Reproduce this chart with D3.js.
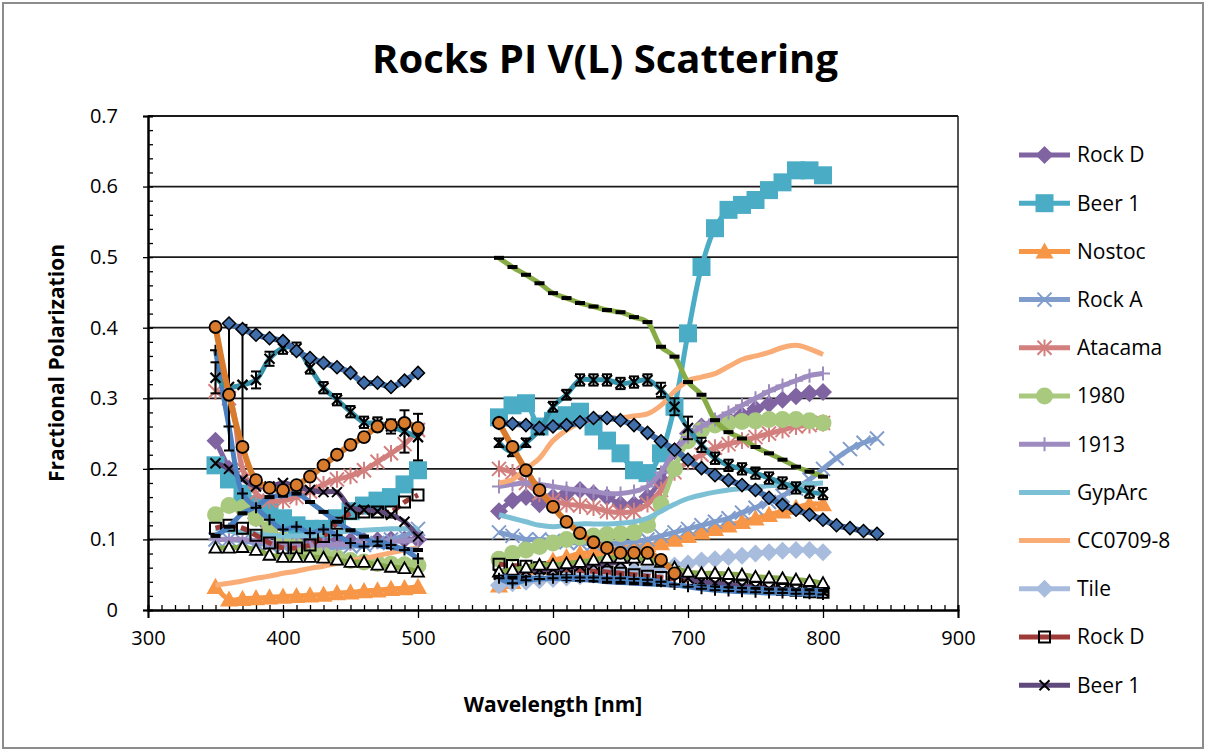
<!DOCTYPE html>
<html>
<head>
<meta charset="utf-8">
<script src="https://cdn.jsdelivr.net/npm/d3@7"></script>
<style>
  body { margin: 0; background: #fff; }
  text { font-family: "Open Sans", Lato, sans-serif; fill: #000; }
</style>
</head>
<body>
<div id="chart"></div>
<script>
// wavelengths (nm)
const wlLeft = [350, 360, 370, 380, 390, 400, 410, 420, 430, 440, 450, 460, 470, 480, 490, 500]
const wlRight = [560, 570, 580, 590, 600, 610, 620, 630, 640, 650, 660, 670, 680, 690, 700, 710, 720, 730, 740, 750, 760, 770, 780, 790, 800]
const wlRightLong = [560, 570, 580, 590, 600, 610, 620, 630, 640, 650, 660, 670, 680, 690, 700, 710, 720, 730, 740, 750, 760, 770, 780, 790, 800, 810, 820, 830, 840]
const wlOrangeRight = [560, 570, 580, 590, 600, 610, 620, 630, 640, 650, 660, 670, 680, 690]

// legend series
const rockDLeft = [0.24, 0.2, 0.16, 0.13, 0.11, 0.1, 0.098, 0.097, 0.097, 0.097, 0.098, 0.098, 0.099, 0.1, 0.1, 0.1]
const rockDRight = [0.14, 0.155, 0.16, 0.15, 0.16, 0.165, 0.17, 0.165, 0.16, 0.15, 0.15, 0.16, 0.185, 0.225, 0.25, 0.26, 0.265, 0.27, 0.276, 0.285, 0.292, 0.298, 0.303, 0.307, 0.309]
const beer1Left = [0.205, 0.185, 0.165, 0.15, 0.14, 0.13, 0.12, 0.115, 0.115, 0.13, 0.14, 0.148, 0.155, 0.16, 0.178, 0.198]
const beer1Right = [0.273, 0.29, 0.293, 0.26, 0.268, 0.276, 0.281, 0.26, 0.24, 0.222, 0.198, 0.194, 0.222, 0.288, 0.392, 0.486, 0.541, 0.567, 0.574, 0.581, 0.595, 0.606, 0.623, 0.623, 0.616]
const nostocLeft = [0.033, 0.015, 0.016, 0.017, 0.018, 0.019, 0.02, 0.021, 0.022, 0.024, 0.025, 0.027, 0.028, 0.03, 0.031, 0.033]
const nostocRight = [0.035, 0.04, 0.05, 0.06, 0.07, 0.075, 0.08, 0.082, 0.085, 0.088, 0.09, 0.092, 0.095, 0.1, 0.105, 0.11, 0.115, 0.12, 0.125, 0.13, 0.135, 0.14, 0.145, 0.15, 0.15]
const rockALeft = [0.1, 0.1, 0.098, 0.095, 0.092, 0.09, 0.088, 0.088, 0.088, 0.088, 0.09, 0.092, 0.095, 0.1, 0.105, 0.115]
const rockARight = [0.11, 0.105, 0.1, 0.1, 0.098, 0.096, 0.095, 0.094, 0.094, 0.095, 0.097, 0.1, 0.105, 0.11, 0.115, 0.12, 0.125, 0.13, 0.138, 0.145, 0.153, 0.162, 0.172, 0.185, 0.2, 0.215, 0.228, 0.237, 0.243]
const atacamaLeft = [0.31, 0.3, 0.2, 0.165, 0.155, 0.155, 0.16, 0.168, 0.178, 0.185, 0.19, 0.198, 0.21, 0.222, 0.235, 0.255]
const atacamaRight = [0.2, 0.195, 0.18, 0.165, 0.155, 0.15, 0.148, 0.145, 0.14, 0.138, 0.14, 0.15, 0.17, 0.195, 0.21, 0.22, 0.23, 0.235, 0.24, 0.245, 0.25, 0.255, 0.26, 0.262, 0.265]
const s1980Left = [0.135, 0.148, 0.145, 0.13, 0.115, 0.1, 0.09, 0.083, 0.078, 0.074, 0.07, 0.068, 0.066, 0.065, 0.064, 0.063]
const s1980Right = [0.072, 0.08, 0.085, 0.09, 0.095, 0.1, 0.103, 0.105, 0.107, 0.108, 0.11, 0.12, 0.15, 0.2, 0.24, 0.255, 0.262, 0.265, 0.267, 0.268, 0.27, 0.27, 0.27, 0.268, 0.265]
const s1913Left = [0.1, 0.1, 0.1, 0.098, 0.095, 0.093, 0.092, 0.092, 0.092, 0.093, 0.094, 0.095, 0.096, 0.097, 0.098, 0.1]
const s1913Right = [0.175, 0.178, 0.18, 0.178, 0.175, 0.172, 0.17, 0.168, 0.165, 0.165, 0.168, 0.175, 0.195, 0.225, 0.245, 0.26, 0.27, 0.28, 0.29, 0.3, 0.31, 0.318, 0.325, 0.332, 0.335]
const gypArcLeft = [0.115, 0.112, 0.11, 0.108, 0.106, 0.105, 0.105, 0.106, 0.108, 0.11, 0.112, 0.113, 0.114, 0.115, 0.115, 0.116]
const gypArcRight = [0.135, 0.13, 0.125, 0.12, 0.118, 0.12, 0.122, 0.122, 0.122, 0.123, 0.125, 0.13, 0.14, 0.15, 0.158, 0.163, 0.167, 0.17, 0.172, 0.174, 0.176, 0.177, 0.178, 0.179, 0.18]
const ccLeft = [0.035, 0.038, 0.041, 0.045, 0.048, 0.052, 0.055, 0.059, 0.062, 0.066, 0.07, 0.073, 0.077, 0.081, 0.085, 0.088]
const ccRight = [0.18, 0.185, 0.2, 0.215, 0.24, 0.255, 0.265, 0.27, 0.272, 0.272, 0.275, 0.278, 0.29, 0.31, 0.325, 0.33, 0.335, 0.345, 0.355, 0.36, 0.365, 0.372, 0.375, 0.37, 0.362]
const tileRight = [0.035, 0.038, 0.04, 0.042, 0.044, 0.046, 0.048, 0.05, 0.052, 0.054, 0.056, 0.058, 0.06, 0.063, 0.066, 0.07, 0.072, 0.075, 0.077, 0.08, 0.082, 0.084, 0.085, 0.085, 0.082]
const rockD2Left = [0.116, 0.12, 0.116, 0.106, 0.095, 0.088, 0.088, 0.092, 0.104, 0.123, 0.137, 0.139, 0.139, 0.139, 0.153, 0.163]
const rockD2Right = [0.065, 0.063, 0.062, 0.06, 0.058, 0.057, 0.056, 0.055, 0.054, 0.052, 0.05, 0.048, 0.046, 0.044, 0.042, 0.04, 0.038, 0.036, 0.034, 0.032, 0.031, 0.029, 0.028, 0.026, 0.025]
const beer1bLeft = [0.208, 0.2, 0.185, 0.175, 0.175, 0.18, 0.175, 0.17, 0.167, 0.167, 0.145, 0.142, 0.14, 0.135, 0.125, 0.104]
const beer1bRight = [0.05, 0.052, 0.055, 0.057, 0.058, 0.06, 0.062, 0.064, 0.066, 0.068, 0.07, 0.072, 0.07, 0.055, 0.045, 0.04, 0.038, 0.036, 0.034, 0.032, 0.03, 0.029, 0.028, 0.027, 0.026]

// unlabelled series
const blueDiaLeft = [null, 0.406, 0.398, 0.39, 0.385, 0.381, 0.367, 0.357, 0.35, 0.344, 0.336, 0.322, 0.322, 0.316, 0.325, 0.336]
const blueDiaRight = [0.265, 0.264, 0.262, 0.258, 0.26, 0.262, 0.266, 0.272, 0.272, 0.269, 0.262, 0.251, 0.239, 0.227, 0.213, 0.201, 0.191, 0.184, 0.177, 0.17, 0.159, 0.149, 0.142, 0.135, 0.128, 0.12, 0.116, 0.112, 0.108]
const tealErrLeft = [0.329, 0.316, 0.319, 0.326, 0.356, 0.371, 0.371, 0.343, 0.315, 0.298, 0.281, 0.266, 0.265, 0.26, 0.253, 0.245]
const tealErrLeftErr = [0.022, 0.09, 0.085, 0.012, 0.01, 0.008, 0.008, 0.008, 0.008, 0.008, 0.008, 0.008, 0.008, 0.01, 0.03, 0.033]
const tealErrRight = [0.237, 0.224, 0.237, 0.255, 0.288, 0.305, 0.326, 0.326, 0.326, 0.321, 0.323, 0.326, 0.312, 0.288, 0.258, 0.234, 0.215, 0.205, 0.2, 0.194, 0.187, 0.18, 0.173, 0.167, 0.165]
const tealErrRightErr = [0.006, 0.006, 0.006, 0.006, 0.007, 0.007, 0.008, 0.008, 0.008, 0.008, 0.008, 0.008, 0.01, 0.012, 0.016, 0.01, 0.008, 0.008, 0.008, 0.008, 0.008, 0.008, 0.008, 0.008, 0.008]
const orangeCircLeft = [0.401, 0.305, 0.231, 0.184, 0.173, 0.17, 0.177, 0.189, 0.205, 0.22, 0.234, 0.245, 0.26, 0.262, 0.265, 0.258]
const orangeCircRight = [0.265, 0.231, 0.198, 0.17, 0.146, 0.125, 0.109, 0.096, 0.088, 0.081, 0.081, 0.081, 0.071, 0.052]
const bluePlusLeft = [0.368, 0.26, 0.165, 0.145, 0.128, 0.114, 0.118, 0.109, 0.114, 0.106, 0.095, 0.09, 0.097, 0.092, 0.085, 0.073]
const bluePlusRight = [0.045, 0.038, 0.042, 0.044, 0.045, 0.046, 0.046, 0.046, 0.045, 0.045, 0.044, 0.043, 0.04, 0.036, 0.033, 0.03, 0.028, 0.027, 0.026, 0.025, 0.024, 0.024, 0.023, 0.023, 0.022]
const blueDashLeft = [0.105, 0.118, 0.137, 0.146, 0.16, 0.162, 0.165, 0.153, 0.139, 0.125, 0.113, 0.104, 0.092, 0.089, 0.086, 0.085]
const blueDashRight = [0.047, 0.046, 0.046, 0.045, 0.045, 0.044, 0.043, 0.042, 0.04, 0.039, 0.038, 0.037, 0.036, 0.035, 0.034, 0.033, 0.032, 0.031, 0.03, 0.03, 0.029, 0.028, 0.028, 0.028, 0.027]
const greenDashRight = [0.499, 0.486, 0.475, 0.463, 0.449, 0.442, 0.435, 0.43, 0.425, 0.422, 0.415, 0.408, 0.373, 0.359, 0.323, 0.305, 0.269, 0.252, 0.243, 0.231, 0.222, 0.213, 0.203, 0.196, 0.189]
const greenTriLeft = [0.088, 0.088, 0.089, 0.085, 0.078, 0.075, 0.075, 0.075, 0.074, 0.071, 0.068, 0.068, 0.064, 0.061, 0.059, 0.054]
const greenTriRight = [0.054, 0.057, 0.06, 0.064, 0.064, 0.066, 0.068, 0.071, 0.074, 0.074, 0.074, 0.071, 0.068, 0.06, 0.054, 0.052, 0.052, 0.051, 0.05, 0.047, 0.046, 0.045, 0.043, 0.041, 0.038]

const legendNames = ['Rock D', 'Beer 1', 'Nostoc', 'Rock A', 'Atacama', '1980', '1913', 'GypArc', 'CC0709-8', 'Tile', 'Rock D', 'Beer 1']
const xTicks = [300, 400, 500, 600, 700, 800, 900]
const yTicks = [0, 0.1, 0.2, 0.3, 0.4, 0.5, 0.6, 0.7]

const pair = (xs, ys) => xs.map((d, i) => [d, ys[i]]).filter(p => p[1] != null)

// drawing order = Excel series order
const series = [
  { name: legendNames[0], segs: [pair(wlLeft, rockDLeft), pair(wlRight, rockDRight)], color: '#8064A2', lw: 5, marker: 'diamond', ms: 9, fill: '#8064A2' },
  { name: legendNames[1], segs: [pair(wlLeft, beer1Left), pair(wlRight, beer1Right)], color: '#4BACC6', lw: 5, marker: 'square', ms: 9, fill: '#4BACC6' },
  { name: legendNames[2], segs: [pair(wlLeft, nostocLeft), pair(wlRight, nostocRight)], color: '#F79646', lw: 5, marker: 'triangle', ms: 9, fill: '#F79646' },
  { name: legendNames[3], segs: [pair(wlLeft, rockALeft), pair(wlRightLong, rockARight)], color: '#7F9CCC', lw: 5, marker: 'x', ms: 7, stroke: '#7F9CCC', sw: 2 },
  { name: legendNames[4], segs: [pair(wlLeft, atacamaLeft), pair(wlRight, atacamaRight)], color: '#D27F7D', lw: 5, marker: 'star', ms: 7, stroke: '#D27F7D', sw: 2 },
  { name: legendNames[5], segs: [pair(wlLeft, s1980Left), pair(wlRight, s1980Right)], color: '#A9C97E', lw: 5, marker: 'circle', ms: 8.5, fill: '#A9C97E' },
  { name: legendNames[6], segs: [pair(wlLeft, s1913Left), pair(wlRight, s1913Right)], color: '#9E8BBF', lw: 5, marker: 'plus', ms: 7, stroke: '#9E8BBF', sw: 2 },
  { name: legendNames[7], segs: [pair(wlLeft, gypArcLeft), pair(wlRight, gypArcRight)], color: '#7CC0D6', lw: 5, marker: null },
  { name: legendNames[8], segs: [pair(wlLeft, ccLeft), pair(wlRight, ccRight)], color: '#F9AC76', lw: 5, marker: null },
  { name: legendNames[9], segs: [pair(wlRight, tileRight)], color: '#A8BCDD', lw: 5, marker: 'diamond', ms: 9, fill: '#A8BCDD' },
  { name: legendNames[10], segs: [pair(wlLeft, rockD2Left), pair(wlRight, rockD2Right)], color: '#9E3B38', lw: 5, dash: '9,4', marker: 'square', ms: 5.5, fill: 'none', stroke: '#000', sw: 2 },
  { name: legendNames[11], segs: [pair(wlLeft, beer1bLeft), pair(wlRight, beer1bRight)], color: '#604A7B', lw: 5, marker: 'x', ms: 5, stroke: '#000', sw: 2 },
  { segs: [pair(wlLeft, greenTriLeft), pair(wlRight, greenTriRight)], color: '#86A94A', lw: 5, marker: 'triangle', ms: 6, fill: '#fff', stroke: '#000', sw: 1.8 },
  { segs: [pair(wlLeft, blueDashLeft), pair(wlRight, blueDashRight)], color: '#4A7FC0', lw: 5, marker: 'dash', ms: 5 },
  { segs: [pair(wlLeft, bluePlusLeft), pair(wlRight, bluePlusRight)], color: '#4A7FC0', lw: 5, marker: 'plus', ms: 5.5, stroke: '#000', sw: 2 },
  { segs: [pair(wlRight, greenDashRight)], color: '#88AC45', lw: 5, marker: 'dash', ms: 5 },
  { segs: [pair(wlLeft, tealErrLeft), pair(wlRight, tealErrRight)], errs: [tealErrLeftErr, tealErrRightErr], color: '#3592AA', lw: 5, marker: 'x', ms: 5, stroke: '#000', sw: 2.2 },
  { segs: [pair(wlLeft, blueDiaLeft), pair(wlRightLong, blueDiaRight)], color: '#3F6EAA', lw: 6, marker: 'diamond', ms: 6.5, fill: '#3F6EAA', stroke: '#000', sw: 1.5 },
  { segs: [pair(wlLeft, orangeCircLeft), pair(wlOrangeRight, orangeCircRight)], color: '#D87B2C', lw: 6, marker: 'circle', ms: 6, fill: '#D87B2C', stroke: '#000', sw: 1.8 }
]

const W = 1207, H = 751
const svg = d3.select('#chart').append('svg').attr('width', W).attr('height', H)

svg.append('rect').attr('x', 3).attr('y', 3).attr('width', 1200).attr('height', 745)
  .attr('fill', '#fff').attr('stroke', '#8c8c8c').attr('stroke-width', 2)

const x = d3.scaleLinear().domain([300, 900]).range([148, 958])
const y = d3.scaleLinear().domain([0, 0.7]).range([610, 116])

svg.append('text').attr('x', 605).attr('y', 73).attr('text-anchor', 'middle')
  .style('font-size', '40px').style('font-weight', 'bold').text('Rocks PI V(L) Scattering')

// gridlines
svg.append('g').selectAll('line').data(yTicks.slice(1)).join('line')
  .attr('x1', 148).attr('x2', 958).attr('y1', d => y(d)).attr('y2', d => y(d))
  .attr('stroke', '#1a1a1a').attr('stroke-width', 1.8)
svg.append('line').attr('x1', 958).attr('x2', 958).attr('y1', 116).attr('y2', 610)
  .attr('stroke', '#1a1a1a').attr('stroke-width', 1.5)

// axes
const xMinor = svg.append('g').attr('transform', 'translate(0,610)')
  .call(d3.axisBottom(x).tickValues(d3.range(300, 901, 10)).tickSize(-5).tickFormat(''))
const xMajor = svg.append('g').attr('transform', 'translate(0,610)')
  .call(d3.axisBottom(x).tickValues(xTicks).tickSize(8).tickPadding(13).tickFormat(d3.format('d')))
const yMinor = svg.append('g').attr('transform', 'translate(148,0)')
  .call(d3.axisLeft(y).tickValues(d3.range(0, 0.701, 0.02)).tickSize(-5).tickFormat(''))
const yMajor = svg.append('g').attr('transform', 'translate(148,0)')
  .call(d3.axisLeft(y).tickValues(yTicks).tickSize(5).tickPadding(25).tickFormat(d => d === 0 ? '0' : d3.format('.1f')(d)))
;[xMinor, xMajor, yMinor, yMajor].forEach(g => {
  g.select('.domain').attr('stroke', '#000').attr('stroke-width', 2)
  g.selectAll('.tick line').attr('stroke', '#000').attr('stroke-width', 1.3)
  g.selectAll('text').style('font-size', '20px').style('font-family', '"Open Sans", sans-serif').attr('fill', '#000')
})

svg.append('text').attr('transform', 'translate(64,363) rotate(-90)').attr('text-anchor', 'middle')
  .style('font-size', '21px').style('font-weight', 'bold').text('Fractional Polarization')
svg.append('text').attr('x', 553).attr('y', 712).attr('text-anchor', 'middle')
  .style('font-size', '21px').style('font-weight', 'bold').text('Wavelength [nm]')

// markers
function markerPath(type, s) {
  const p = d3.path()
  if (type === 'diamond') { p.moveTo(0, -s); p.lineTo(s, 0); p.lineTo(0, s); p.lineTo(-s, 0); p.closePath() }
  else if (type === 'square') { p.rect(-s, -s, 2 * s, 2 * s) }
  else if (type === 'triangle') { p.moveTo(0, -s); p.lineTo(s, s * 0.8); p.lineTo(-s, s * 0.8); p.closePath() }
  else if (type === 'circle') { p.arc(0, 0, s, 0, 2 * Math.PI) }
  else if (type === 'x') { p.moveTo(-s, -s); p.lineTo(s, s); p.moveTo(s, -s); p.lineTo(-s, s) }
  else if (type === 'plus') { p.moveTo(-s, 0); p.lineTo(s, 0); p.moveTo(0, -s); p.lineTo(0, s) }
  else if (type === 'star') { p.moveTo(-s, -s); p.lineTo(s, s); p.moveTo(s, -s); p.lineTo(-s, s); p.moveTo(0, -s * 1.2); p.lineTo(0, s * 1.2) }
  else if (type === 'dash') { p.rect(-s, -2, 2 * s, 4) }
  return p.toString()
}

function drawMarker(g, s, cx, cy) {
  const el = g.append('path').attr('d', markerPath(s.marker, s.ms))
    .attr('transform', `translate(${cx},${cy})`)
  if (s.marker === 'dash') el.attr('fill', '#000')
  else el.attr('fill', s.fill || 'none').attr('stroke', s.stroke || 'none').attr('stroke-width', s.sw || 0)
}

const line = d3.line().x(d => x(d[0])).y(d => y(d[1])).curve(d3.curveCatmullRom.alpha(0.5))
const plot = svg.append('g')

series.forEach(s => {
  const g = plot.append('g')
  s.segs.forEach((seg, k) => {
    g.append('path').datum(seg).attr('d', line).attr('fill', 'none')
      .attr('stroke', s.color).attr('stroke-width', s.lw).attr('stroke-linejoin', 'round')
      .attr('stroke-dasharray', s.dash || null)
    if (s.errs) {
      seg.forEach((d, i) => {
        const e = s.errs[k][i]
        const cx = x(d[0])
        g.append('line').attr('x1', cx).attr('x2', cx).attr('y1', y(d[1] + e)).attr('y2', y(d[1] - e))
          .attr('stroke', '#000').attr('stroke-width', 2)
        ;[d[1] + e, d[1] - e].forEach(v => g.append('line').attr('x1', cx - 5).attr('x2', cx + 5)
          .attr('y1', y(v)).attr('y2', y(v)).attr('stroke', '#000').attr('stroke-width', 2))
      })
    }
    if (s.marker) seg.forEach(d => drawMarker(g, s, x(d[0]), y(d[1])))
  })
})

// legend (first 12 series)
const legend = svg.append('g')
series.slice(0, 12).forEach((s, i) => {
  const ly = 155 + i * 48.2
  legend.append('line').attr('x1', 1019).attr('x2', 1070).attr('y1', ly).attr('y2', ly)
    .attr('stroke', s.color).attr('stroke-width', 5)
  if (s.marker) drawMarker(legend, s, 1044.5, ly)
  legend.append('text').attr('x', 1077).attr('y', ly).attr('dy', '0.35em')
    .style('font-size', '21px').text(s.name)
})
</script>
</body>
</html>
